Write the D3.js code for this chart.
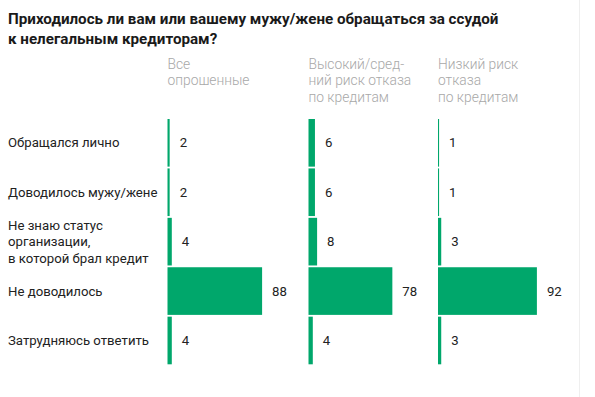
<!DOCTYPE html>
<html lang="ru">
<head>
<meta charset="utf-8">
<title>Нелегальные кредиторы</title>
<script src="https://d3js.org/d3.v7.min.js"></script>
<style>
  body { margin: 0; background: #fff; }
  text { font-family: Roboto, "Noto Sans", sans-serif; }
</style>
</head>
<body>
<div id="chart"></div>
<script>
// data
var categories = [
  ["Обращался лично"],
  ["Доводилось мужу/жене"],
  ["Не знаю статус", "организации,", "в которой брал кредит"],
  ["Не доводилось"],
  ["Затрудняюсь ответить"]
];
var groups = [
  ["Все", "опрошенные"],
  ["Высокий/сред-", "ний риск отказа", "по кредитам"],
  ["Низкий риск", "отказа", "по кредитам"]
];
var allRespondents = [2, 2, 4, 88, 4];
var highRisk = [6, 6, 8, 78, 4];
var lowRisk = [1, 1, 3, 92, 3];
var series = [allRespondents, highRisk, lowRisk];

var width = 595, height = 397;
var green = "#00a76b";

var svg = d3.select("#chart").append("svg")
    .attr("width", width)
    .attr("height", height);

// faint right border
svg.append("line")
    .attr("x1", 579.5).attr("x2", 579.5)
    .attr("y1", 0).attr("y2", height)
    .attr("stroke", "#efefef");

// title
svg.append("text")
    .attr("x", 8).attr("y", 24)
    .attr("font-size", 15.2).attr("font-weight", 700).attr("fill", "#1a1a1a")
    .selectAll("tspan")
    .data(["Приходилось ли вам или вашему мужу/жене обращаться за ссудой", "к нелегальным кредиторам?"])
    .join("tspan")
    .attr("x", 8)
    .attr("dy", function(d, i) { return i ? 19.5 : 0; })
    .text(function(d) { return d; });

var y = d3.scaleBand()
    .domain(d3.range(categories.length))
    .range([119, 364.3])
    .paddingInner(0.036);

var x = d3.scaleLinear().domain([0, 100]).range([0, 107.5]);
var colStart = [167.5, 308.5, 438];

// category labels
svg.append("g").selectAll("text")
    .data(categories)
    .join("text")
    .attr("font-size", 13.2).attr("fill", "#222")
    .each(function(lines, i) {
      var cy = y(i) + y.bandwidth() / 2 + 4.5;
      var top = cy - (lines.length - 1) * 16.5 / 2;
      d3.select(this).selectAll("tspan")
        .data(lines)
        .join("tspan")
        .attr("x", 8)
        .attr("y", function(d, k) { return top + k * 16.5; })
        .text(function(d) { return d; });
    });

// column headers
svg.append("g").selectAll("text")
    .data(groups)
    .join("text")
    .attr("font-size", 13.8).attr("font-weight", 300).attr("fill", "#a8a8a8")
    .each(function(lines, j) {
      d3.select(this).selectAll("tspan")
        .data(lines)
        .join("tspan")
        .attr("x", colStart[j])
        .attr("y", function(d, k) { return 68.5 + k * 16.7; })
        .text(function(d) { return d; });
    });

// bars and values
series.forEach(function(vals, j) {
  var g = svg.append("g").attr("transform", "translate(" + colStart[j] + ",0)");
  g.selectAll("rect")
    .data(vals)
    .join("rect")
    .attr("x", 0)
    .attr("y", function(d, i) { return y(i); })
    .attr("width", function(d) { return x(d); })
    .attr("height", y.bandwidth())
    .attr("fill", green);
  g.selectAll("text")
    .data(vals)
    .join("text")
    .attr("x", function(d) { return x(d) + 10; })
    .attr("y", function(d, i) { return y(i) + y.bandwidth() / 2 + 4.5; })
    .attr("font-size", 13.2).attr("fill", "#222")
    .text(function(d) { return d; });
});
</script>
</body>
</html>
